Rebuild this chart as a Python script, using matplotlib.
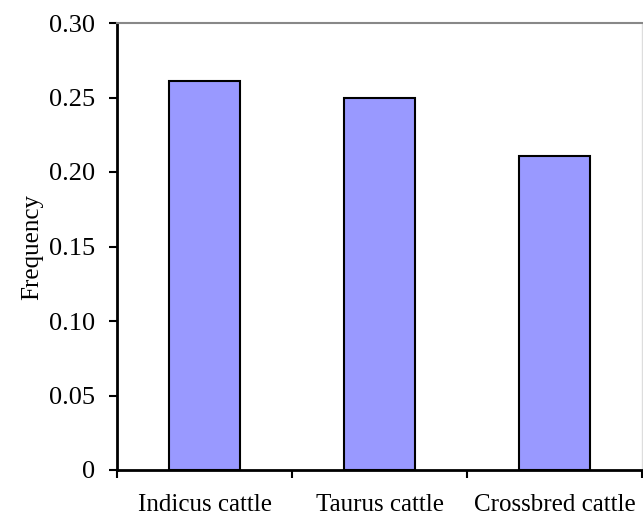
import numpy as np
import matplotlib
matplotlib.use("Agg")
import matplotlib.pyplot as plt

categories = ["Indicus cattle", "Taurus cattle", "Crossbred cattle"]
frequency = [0.261, 0.250, 0.211]
yticks = [0, 0.05, 0.10, 0.15, 0.20, 0.25, 0.30]
ytick_labels = ["0", "0.05", "0.10", "0.15", "0.20", "0.25", "0.30"]

plt.rcParams["font.family"] = ["Liberation Serif", "DejaVu Serif"]

fig = plt.figure(figsize=(6.43, 5.17), dpi=100)
ax = fig.add_axes([117/643, 1 - 470/517, 525/643, 447/517])

x = np.arange(len(categories))
ax.bar(x, frequency, width=0.41, color="#9999FF", edgecolor="black", linewidth=1.5, zorder=3)

ax.set_xlim(-0.5, len(categories) - 0.5)
ax.set_ylim(0, 0.30)
ax.set_yticks(yticks)
ax.set_yticklabels(ytick_labels, fontsize=19)
ax.set_xticks(x)
ax.set_xticklabels(categories, fontsize=18)
ax.tick_params(axis="x", which="major", length=0, pad=17)
ax.set_xticks(np.arange(-0.5, len(categories)), minor=True)
ax.tick_params(axis="x", which="minor", length=6, width=1.5, direction="out")
ax.tick_params(axis="y", length=6, width=1.5, direction="out", pad=10)

ax.spines["left"].set_linewidth(2)
ax.spines["bottom"].set_linewidth(2)
ax.spines["top"].set_color("#888888")
ax.spines["top"].set_linewidth(1.5)
ax.spines["right"].set_color("#dddddd")
ax.spines["right"].set_linewidth(1)
ax.set_ylabel("Frequency", fontsize=18, labelpad=4)

fig.savefig("out.png", dpi=100)
